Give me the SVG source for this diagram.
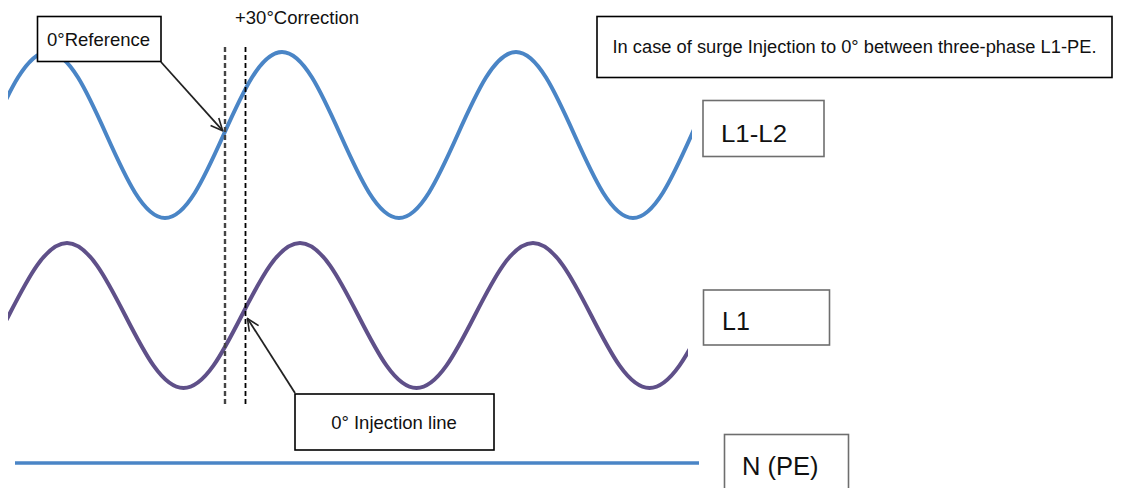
<svg xmlns="http://www.w3.org/2000/svg" width="1121" height="488" viewBox="0 0 1121 488">
<style>
text{font-family:"Liberation Sans",Arial,sans-serif;fill:#111}
.box{fill:#fff;stroke:#000;stroke-width:1.6}
.gbox{fill:#fff;stroke:#6e6e6e;stroke-width:1.6}
.wave{fill:none;stroke-width:4;stroke-linecap:round}
.arrow{fill:none;stroke:#222;stroke-width:1.8;marker-end:url(#open)}
</style>
<defs>
<marker id="open" viewBox="0 0 14 14" refX="13" refY="7" markerWidth="14" markerHeight="14" markerUnits="userSpaceOnUse" orient="auto">
<path d="M1,1.5 L13,7 L1,12.5" fill="none" stroke="#222" stroke-width="1.6"/>
</marker>
<clipPath id="cb"><rect x="8" y="0" width="684" height="488"/></clipPath>
<clipPath id="cp"><rect x="8" y="0" width="680" height="488"/></clipPath>
</defs>
<g id="wave-l1l2" clip-path="url(#cb)">
<path class="wave" stroke="#4a85c6" d="M-69,218 c21.17,0 39.42,-40.48 58.5,-83 c19.08,-42.52 37.33,-83 58.5,-83 c21.17,0 39.42,40.48 58.5,83 c19.08,42.52 37.33,83 58.5,83 c21.17,0 39.42,-40.48 58.5,-83 c19.08,-42.52 37.33,-83 58.5,-83 c21.17,0 39.42,40.48 58.5,83 c19.08,42.52 37.33,83 58.5,83 c21.17,0 39.42,-40.48 58.5,-83 c19.08,-42.52 37.33,-83 58.5,-83 c21.17,0 39.42,40.48 58.5,83 c19.08,42.52 37.33,83 58.5,83 c21.17,0 39.42,-40.48 58.5,-83 c19.08,-42.52 37.33,-83 58.5,-83"/>
</g>
<g id="wave-l1" clip-path="url(#cp)">
<path class="wave" stroke="#5f5089" d="M-49.5,388 c21.08,0 39.25,-35.36 58.25,-72.5 c19,-37.14 37.17,-72.5 58.25,-72.5 c21.08,0 39.25,35.36 58.25,72.5 c19,37.14 37.17,72.5 58.25,72.5 c21.08,0 39.25,-35.36 58.25,-72.5 c19,-37.14 37.17,-72.5 58.25,-72.5 c21.08,0 39.25,35.36 58.25,72.5 c19,37.14 37.17,72.5 58.25,72.5 c21.08,0 39.25,-35.36 58.25,-72.5 c19,-37.14 37.17,-72.5 58.25,-72.5 c21.08,0 39.25,35.36 58.25,72.5 c19,37.14 37.17,72.5 58.25,72.5 c21.08,0 39.25,-35.36 58.25,-72.5 c19,-37.14 37.17,-72.5 58.25,-72.5"/>
</g>
<g id="wave-n">
<line x1="15" y1="463" x2="699" y2="463" stroke="#4a85c6" stroke-width="3.5"/>
</g>
<g id="dashed-lines">
<line x1="225" y1="47" x2="225" y2="404" stroke="#444" stroke-width="2.4" stroke-dasharray="5 3"/>
<line x1="245.5" y1="47" x2="245.5" y2="404" stroke="#000" stroke-width="1.8" stroke-dasharray="5 3"/>
</g>
<g id="connectors">
<path class="arrow" d="M161,62 L222.7,130.7"/>
<path class="arrow" d="M295,393 L247.5,318.5"/>
</g>
<g id="ref-box">
<rect class="box" x="37.5" y="16.5" width="123.5" height="45"/>
<text x="47" y="46" font-size="18.5">0°Reference</text>
</g>
<g id="correction-label">
<text x="235" y="24" font-size="18.5">+30°Correction</text>
</g>
<g id="note-box">
<rect class="box" x="597" y="16.5" width="515" height="61"/>
<text x="854.5" y="53" font-size="18.3" text-anchor="middle">In case of surge Injection to 0° between three-phase L1-PE.</text>
</g>
<g id="l1l2-box">
<rect class="gbox" x="703" y="100.5" width="121" height="56"/>
<text x="721" y="142" font-size="24" textLength="66" lengthAdjust="spacingAndGlyphs">L1-L2</text>
</g>
<g id="l1-box">
<rect class="gbox" x="703.5" y="290" width="126" height="55"/>
<text x="722" y="330" font-size="25">L1</text>
</g>
<g id="npe-box">
<rect class="gbox" x="724.5" y="434.5" width="124" height="56"/>
<text x="742" y="475" font-size="25.5">N (PE)</text>
</g>
<g id="injection-box">
<rect class="box" x="295" y="394" width="199" height="56"/>
<text x="394" y="429" font-size="18.5" text-anchor="middle">0° Injection line</text>
</g>
</svg>
